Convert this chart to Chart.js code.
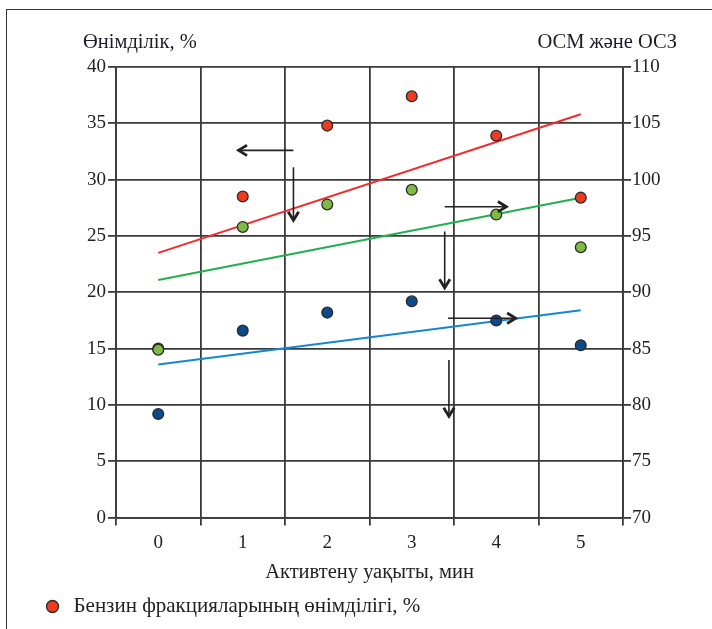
<!DOCTYPE html>
<html>

<head>
    <title>Activation time chart</title>
    <meta charset="UTF-8">
    <script src="https://cdn.jsdelivr.net/npm/chart.js"></script>
    <style>
        body {
            margin: 0;
            background: #fff;
        }
        /* outer frame, only left and top edges fall inside the window */
        #frame {
            position: absolute;
            left: 6px;
            top: 9px;
            width: 760px;
            height: 700px;
            border: 1.5px solid #333;
        }
        #chartContainer {
            position: absolute;
            left: 0;
            top: 0;
            width: 712px;
            height: 629px;
        }
    </style>
</head>

<body>
    <div id="frame"></div>
    <div id="chartContainer">
        <canvas id="scatterChart"></canvas>
    </div>

    <script>
        // categories (activation time, min)
        var minutes = ['0', '1', '2', '3', '4', '5'];

        // measured points
        var benzinYield = [15.0, 28.5, 34.8, 37.4, 33.9, 28.4];   // left axis, %
        var oszValues = [84.9, 95.8, 97.8, 99.1, 96.9, 94.0];     // right axis (green)
        var osmValues = [79.2, 86.6, 88.2, 89.2, 87.5, 85.3];     // right axis (blue)

        // trend lines, value at first and last category
        var benzinTrend = [23.5, 35.8];
        var oszTrend = [91.1, 98.4];
        var osmTrend = [83.6, 88.4];

        // axis ranges / tick steps
        var leftTicks = [0, 5, 10, 15, 20, 25, 30, 35, 40];
        var rightTicks = [70, 75, 80, 85, 90, 95, 100, 105, 110];

        // annotation arrows, in (category index, left axis value)
        var arrows = [
            { from: [1.60, 32.6], to: [0.95, 32.6] },
            { from: [1.60, 31.1], to: [1.60, 26.4] },
            { from: [3.39, 27.6], to: [4.12, 27.6] },
            { from: [3.39, 25.4], to: [3.39, 20.4] },
            { from: [3.43, 17.7], to: [4.23, 17.7] },
            { from: [3.44, 14.0], to: [3.44, 9.0] }
        ];

        var FONT = 'Liberation Serif';
        var GRID = '#3a3a3a';

        function trendData(vals) {
            return [
                { x: minutes[0], y: vals[0] },
                { x: minutes[minutes.length - 1], y: vals[1] }
            ];
        }

        // draws the two header labels and the arrows
        var extrasPlugin = {
            id: 'extras',
            afterDraw: function (chart) {
                var ctx = chart.ctx;
                var area = chart.chartArea;
                var xs = chart.scales.x;
                var ys = chart.scales.y;

                ctx.save();
                ctx.fillStyle = '#1c1c28';
                ctx.font = '20.5px "' + FONT + '"';
                ctx.textBaseline = 'middle';
                ctx.textAlign = 'left';
                ctx.fillText('Өнімділік, %', area.left - 33, 43);
                ctx.textAlign = 'right';
                ctx.fillText('ОСМ және ОСЗ', area.right + 54, 43);

                ctx.strokeStyle = '#222';
                ctx.lineWidth = 1.6;
                arrows.forEach(function (a) {
                    var x1 = xs.getPixelForValue(a.from[0]);
                    var y1 = ys.getPixelForValue(a.from[1]);
                    var x2 = xs.getPixelForValue(a.to[0]);
                    var y2 = ys.getPixelForValue(a.to[1]);
                    var ang = Math.atan2(y2 - y1, x2 - x1);
                    var h = 10;
                    ctx.beginPath();
                    ctx.moveTo(x1, y1);
                    ctx.lineTo(x2, y2);
                    ctx.stroke();
                    ctx.lineWidth = 2.8;
                    ctx.beginPath();
                    ctx.moveTo(x2 - h * Math.cos(ang - 0.55), y2 - h * Math.sin(ang - 0.55));
                    ctx.lineTo(x2, y2);
                    ctx.lineTo(x2 - h * Math.cos(ang + 0.55), y2 - h * Math.sin(ang + 0.55));
                    ctx.stroke();
                    ctx.lineWidth = 1.6;
                });
                ctx.restore();
            }
        };

        var pointBase = {
            type: 'line',
            showLine: false,
            pointRadius: 5.4,
            pointHoverRadius: 5.4,
            pointBorderWidth: 1.3,
            pointBorderColor: '#2a2a2a'
        };

        var ctx = document.getElementById('scatterChart').getContext('2d');
        var chart = new Chart(ctx, {
            type: 'line',
            data: {
                labels: minutes,
                datasets: [
                    Object.assign({}, pointBase, {
                        label: 'ОСЗ',
                        data: oszValues,
                        yAxisID: 'y1',
                        pointBackgroundColor: '#7dbb42',
                        backgroundColor: '#7dbb42',
                        borderColor: '#7dbb42'
                    }),
                    Object.assign({}, pointBase, {
                        label: 'ОСМ',
                        data: osmValues,
                        yAxisID: 'y1',
                        pointBackgroundColor: '#0d4a8c',
                        backgroundColor: '#0d4a8c',
                        borderColor: '#0d4a8c'
                    }),
                    Object.assign({}, pointBase, {
                        label: 'Бензин фракцияларының өнімділігі, %',
                        data: benzinYield,
                        yAxisID: 'y',
                        pointBackgroundColor: '#ec3b1f',
                        backgroundColor: '#ec3b1f',
                        borderColor: '#2a2a2a'
                    }),
                    {
                        label: 'trend-benzin',
                        data: trendData(benzinTrend),
                        yAxisID: 'y',
                        borderColor: '#f42a2a',
                        borderWidth: 2,
                        pointRadius: 0
                    },
                    {
                        label: 'trend-osz',
                        data: trendData(oszTrend),
                        yAxisID: 'y1',
                        borderColor: '#22b04e',
                        borderWidth: 2,
                        pointRadius: 0
                    },
                    {
                        label: 'trend-osm',
                        data: trendData(osmTrend),
                        yAxisID: 'y1',
                        borderColor: '#1487d2',
                        borderWidth: 2,
                        pointRadius: 0
                    }
                ]
            },
            options: {
                responsive: true,
                maintainAspectRatio: false,
                animation: false,
                layout: {
                    padding: { left: 32, right: 39, top: 67, bottom: 2 }
                },
                scales: {
                    x: {
                        type: 'category',
                        offset: true,
                        grid: { offset: true, color: GRID, lineWidth: 1.8, tickLength: 8 },
                        border: { color: GRID, width: 1.8 },
                        ticks: { color: '#222', font: { family: FONT, size: 19 }, padding: 6 },
                        title: {
                            display: true,
                            text: 'Активтену уақыты, мин',
                            color: '#222',
                            font: { family: FONT, size: 20.5 },
                            padding: { top: 0, bottom: 1 }
                        }
                    },
                    y: {
                        position: 'left',
                        min: 0,
                        max: 40,
                        afterFit: function (scale) { scale.width = 84; },
                        afterBuildTicks: function (scale) {
                            scale.ticks = leftTicks.map(function (v) { return { value: v }; });
                        },
                        grid: { color: GRID, lineWidth: 1.8, tickLength: 8 },
                        border: { color: GRID, width: 1.8 },
                        ticks: { color: '#222', font: { family: FONT, size: 19 }, padding: 2 }
                    },
                    y1: {
                        position: 'right',
                        min: 70,
                        max: 110,
                        afterFit: function (scale) { scale.width = 50; },
                        afterBuildTicks: function (scale) {
                            scale.ticks = rightTicks.map(function (v) { return { value: v }; });
                        },
                        grid: { drawOnChartArea: false, color: GRID, lineWidth: 1.8, tickLength: 8 },
                        border: { color: GRID, width: 1.8 },
                        ticks: { color: '#222', font: { family: FONT, size: 19 }, padding: 1 }
                    }
                },
                plugins: {
                    legend: {
                        position: 'bottom',
                        align: 'start',
                        labels: {
                            color: '#222',
                            font: { family: FONT, size: 21 },
                            usePointStyle: true,
                            pointStyle: 'circle',
                            boxWidth: 21,
                            boxHeight: 8.5,
                            padding: 10,
                            filter: function (item) {
                                return item.text.indexOf('Бензин') === 0;
                            }
                        }
                    },
                    tooltip: { enabled: false }
                }
            },
            plugins: [extrasPlugin]
        });
    </script>
</body>

</html>
